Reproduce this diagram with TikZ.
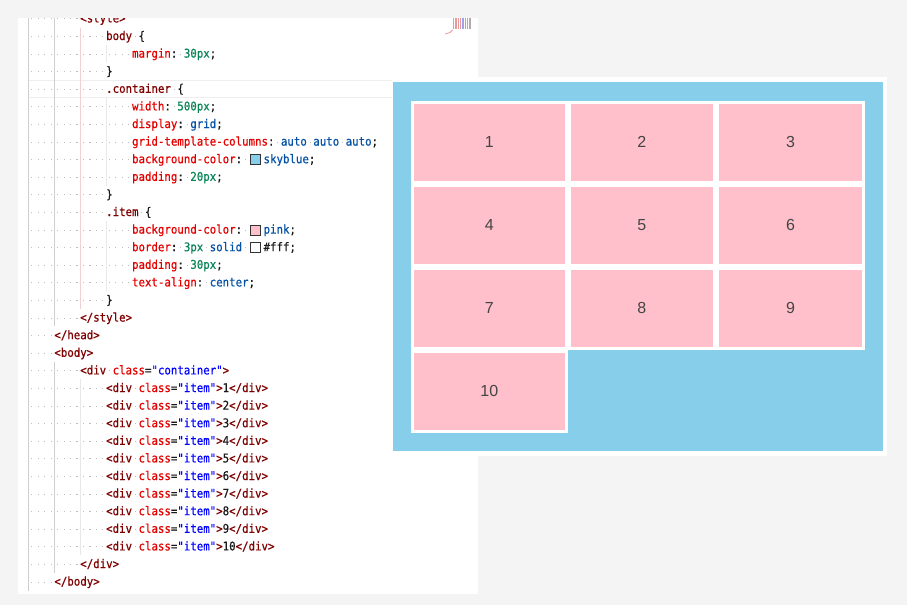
\documentclass[tikz,border=0pt]{standalone}
\usepackage{fontspec}
\newfontfamily\codefont[FakeStretch=0.896,FakeBold=0.6,Ligatures=TeXOff]{DejaVu Sans Mono}
\newfontfamily\itemfont{Liberation Sans}

\definecolor{pagebg}{HTML}{F4F4F4}
\definecolor{tagc}{HTML}{800000}
\definecolor{attrc}{HTML}{E50000}
\definecolor{strc}{HTML}{0000FF}
\definecolor{numc}{HTML}{098658}
\definecolor{valc}{HTML}{0451A5}
\definecolor{codeblack}{HTML}{1A1A1A}
\definecolor{dotc}{HTML}{BDBDBD}
\definecolor{swatchc}{HTML}{333333}
\definecolor{guidedark}{HTML}{CFCFCF}
\definecolor{guidepink}{HTML}{F0D0D0}
\definecolor{guidelight}{HTML}{E8E8E8}
\definecolor{hilite}{HTML}{EEEEEE}
\definecolor{boxsky}{HTML}{87CEEB}
\definecolor{itempink}{HTML}{FFC0CB}
\definecolor{itemtext}{HTML}{444444}
\definecolor{minired}{HTML}{E89A9A}
\definecolor{miniblue}{HTML}{A0A0F0}
\definecolor{minigray}{HTML}{B8A8A8}

\setlength\fboxsep{0pt}
\setlength\fboxrule{0.8pt}

\newcommand\cTag[1]{\textcolor{tagc}{#1}}
\newcommand\cAttr[1]{\textcolor{attrc}{#1}}
\newcommand\cStr[1]{\textcolor{strc}{#1}}
\newcommand\cNum[1]{\textcolor{numc}{#1}}
\newcommand\cVal[1]{\textcolor{valc}{#1}}
\newcommand\cProp[1]{\textcolor{attrc}{#1}}
\newcommand\cDot{\makebox[\fontcharwd\font`0]{\textcolor{dotc}{\rule[3pt]{1.1pt}{1.1pt}}}}
\newcommand\lead[1]{\foreach\k in {1,...,#1}{\cDot}}
\newcommand\cSwatch[1]{\hspace{1.7pt}\raisebox{-1pt}{\fcolorbox{swatchc}{#1}{\rule{0pt}{9.1pt}\rule{9.1pt}{0pt}}}\hspace{2.6pt}}

\begin{document}
\begin{tikzpicture}[
    x=1pt, y=-1pt,
    code/.style={anchor=base west, inner sep=0pt, text=codeblack,
      font=\codefont\fontsize{12}{14}\selectfont},
    guide/.style={line width=0.9pt},
    item/.style={rectangle, fill=itempink, draw=white, line width=2.8pt,
      inner sep=0pt, minimum height=80.2pt, text=itemtext,
      font=\itemfont\fontsize{16}{18}\selectfont}
  ]
  \useasboundingbox (0,0) rectangle (907,605);
  \fill[pagebg] (0,0) rectangle (907,605);

  % editor
  \fill[white] (18.3,18.3) rectangle (478,594);
  \begin{scope}
    \clip (18.3,18.3) rectangle (478,594);
    \draw[hilite, line width=1pt] (28.3,80.6) -- (391.5,80.6);
    \draw[hilite, line width=1pt] (28.3,97.6) -- (391.5,97.6);
    \draw[guide, guidedark] (28.3,18.3) -- (28.3,591);
    \draw[guide, guidedark] (54.2,18.3) -- (54.2,326.4);
    \draw[guide, guidedark] (54.2,361.6) -- (54.2,572.8);
    \draw[guide, guidepink] (80.1,27.6) -- (80.1,309.2);
    \draw[guide, guidelight] (80.1,379.2) -- (80.1,555.2);
    \draw[guide, guidelight] (106,44.8) -- (106,62.4);
    \draw[guide, guidelight] (106,97.6) -- (106,185.6);
    \draw[guide, guidelight] (106,220.8) -- (106,291.2);

    \node[code] (l0) at (28.3,22.4) {\lead{8}\cTag{<style>}};
    \node[code] (l1) at (28.3,40.0) {\lead{12}\cTag{body}\cDot\{};
    \node[code] (l2) at (28.3,57.6) {\lead{16}\cProp{margin}:\cDot\cNum{30px};};
    \node[code] (l3) at (28.3,75.2) {\lead{12}\}};
    \node[code] (l4) at (28.3,92.8) {\lead{12}\cTag{.container}\cDot\{};
    \node[code] (l5) at (28.3,110.4) {\lead{16}\cProp{width}:\cDot\cNum{500px};};
    \node[code] (l6) at (28.3,128.0) {\lead{16}\cProp{display}:\cDot\cVal{grid};};
    \node[code] (l7) at (28.3,145.6) {\lead{16}\cProp{grid-template-columns}:\cDot\cVal{auto}\cDot\cVal{auto}\cDot\cVal{auto};};
    \node[code] (l8) at (28.3,163.2) {\lead{16}\cProp{background-color}:\cDot\cSwatch{boxsky}\cVal{skyblue};};
    \node[code] (l9) at (28.3,180.8) {\lead{16}\cProp{padding}:\cDot\cNum{20px};};
    \node[code] (l10) at (28.3,198.4) {\lead{12}\}};
    \node[code] (l11) at (28.3,216.0) {\lead{12}\cTag{.item}\cDot\{};
    \node[code] (l12) at (28.3,233.6) {\lead{16}\cProp{background-color}:\cDot\cSwatch{itempink}\cVal{pink};};
    \node[code] (l13) at (28.3,251.2) {\lead{16}\cProp{border}:\cDot\cNum{3px}\cDot\cVal{solid}\cDot\cSwatch{white}\#fff;};
    \node[code] (l14) at (28.3,268.8) {\lead{16}\cProp{padding}:\cDot\cNum{30px};};
    \node[code] (l15) at (28.3,286.4) {\lead{16}\cProp{text-align}:\cDot\cVal{center};};
    \node[code] (l16) at (28.3,304.0) {\lead{12}\}};
    \node[code] (l17) at (28.3,321.6) {\lead{8}\cTag{</style>}};
    \node[code] (l18) at (28.3,339.2) {\lead{4}\cTag{</head>}};
    \node[code] (l19) at (28.3,356.8) {\lead{4}\cTag{<body>}};
    \node[code] (l20) at (28.3,374.4) {\lead{8}\cTag{<div}\cDot\cAttr{class}=\cStr{"container"}\cTag{>}};
    \foreach \n in {1,...,10} {
      \node[code] (div\n) at (28.3,{22.4+17.6*(\n+20)})
        {\lead{12}\cTag{<div}\cDot\cAttr{class}=\cStr{"item"}\cTag{>}\n\cTag{</div>}};
    }
    \node[code] (l31) at (28.3,568.0) {\lead{8}\cTag{</div>}};
    \node[code] (l32) at (28.3,585.6) {\lead{4}\cTag{</body>}};

    % little thumbnail in the corner
    \foreach \xx/\cc in {453.5/minired, 455/minired, 456.5/minired, 458.5/minired, 460/minired,
        462/miniblue, 463.5/miniblue, 465/miniblue, 467.5/minigray, 469/minigray, 470.5/minigray}
      \draw[\cc, line width=1pt] (\xx,18.3) -- (\xx,29.3);
    \draw[minired, line width=0.8pt] (445,34) -- (450,32.5) -- (452.5,30);
  \end{scope}

  % rendered page
  \fill[white] (391.5,76.6) rectangle (886.7,456);
  \fill[boxsky] (392.8,82.4) rectangle (883.2,451);
  \foreach \n/\xa/\xb/\r in {1/410.9/567.8/0, 2/567.8/716.0/0, 3/716.0/865.1/0,
      4/410.9/567.8/1, 5/567.8/716.0/1, 6/716.0/865.1/1,
      7/410.9/567.8/2, 8/567.8/716.0/2, 9/716.0/865.1/2, 10/410.9/567.8/3} {
    \node[item, minimum width={(\xb-\xa-2.8)*1pt}] (item\n)
      at ({(\xa+\xb)/2}, {142.3+83.03*\r}) {\n};
  }
\end{tikzpicture}
\end{document}
